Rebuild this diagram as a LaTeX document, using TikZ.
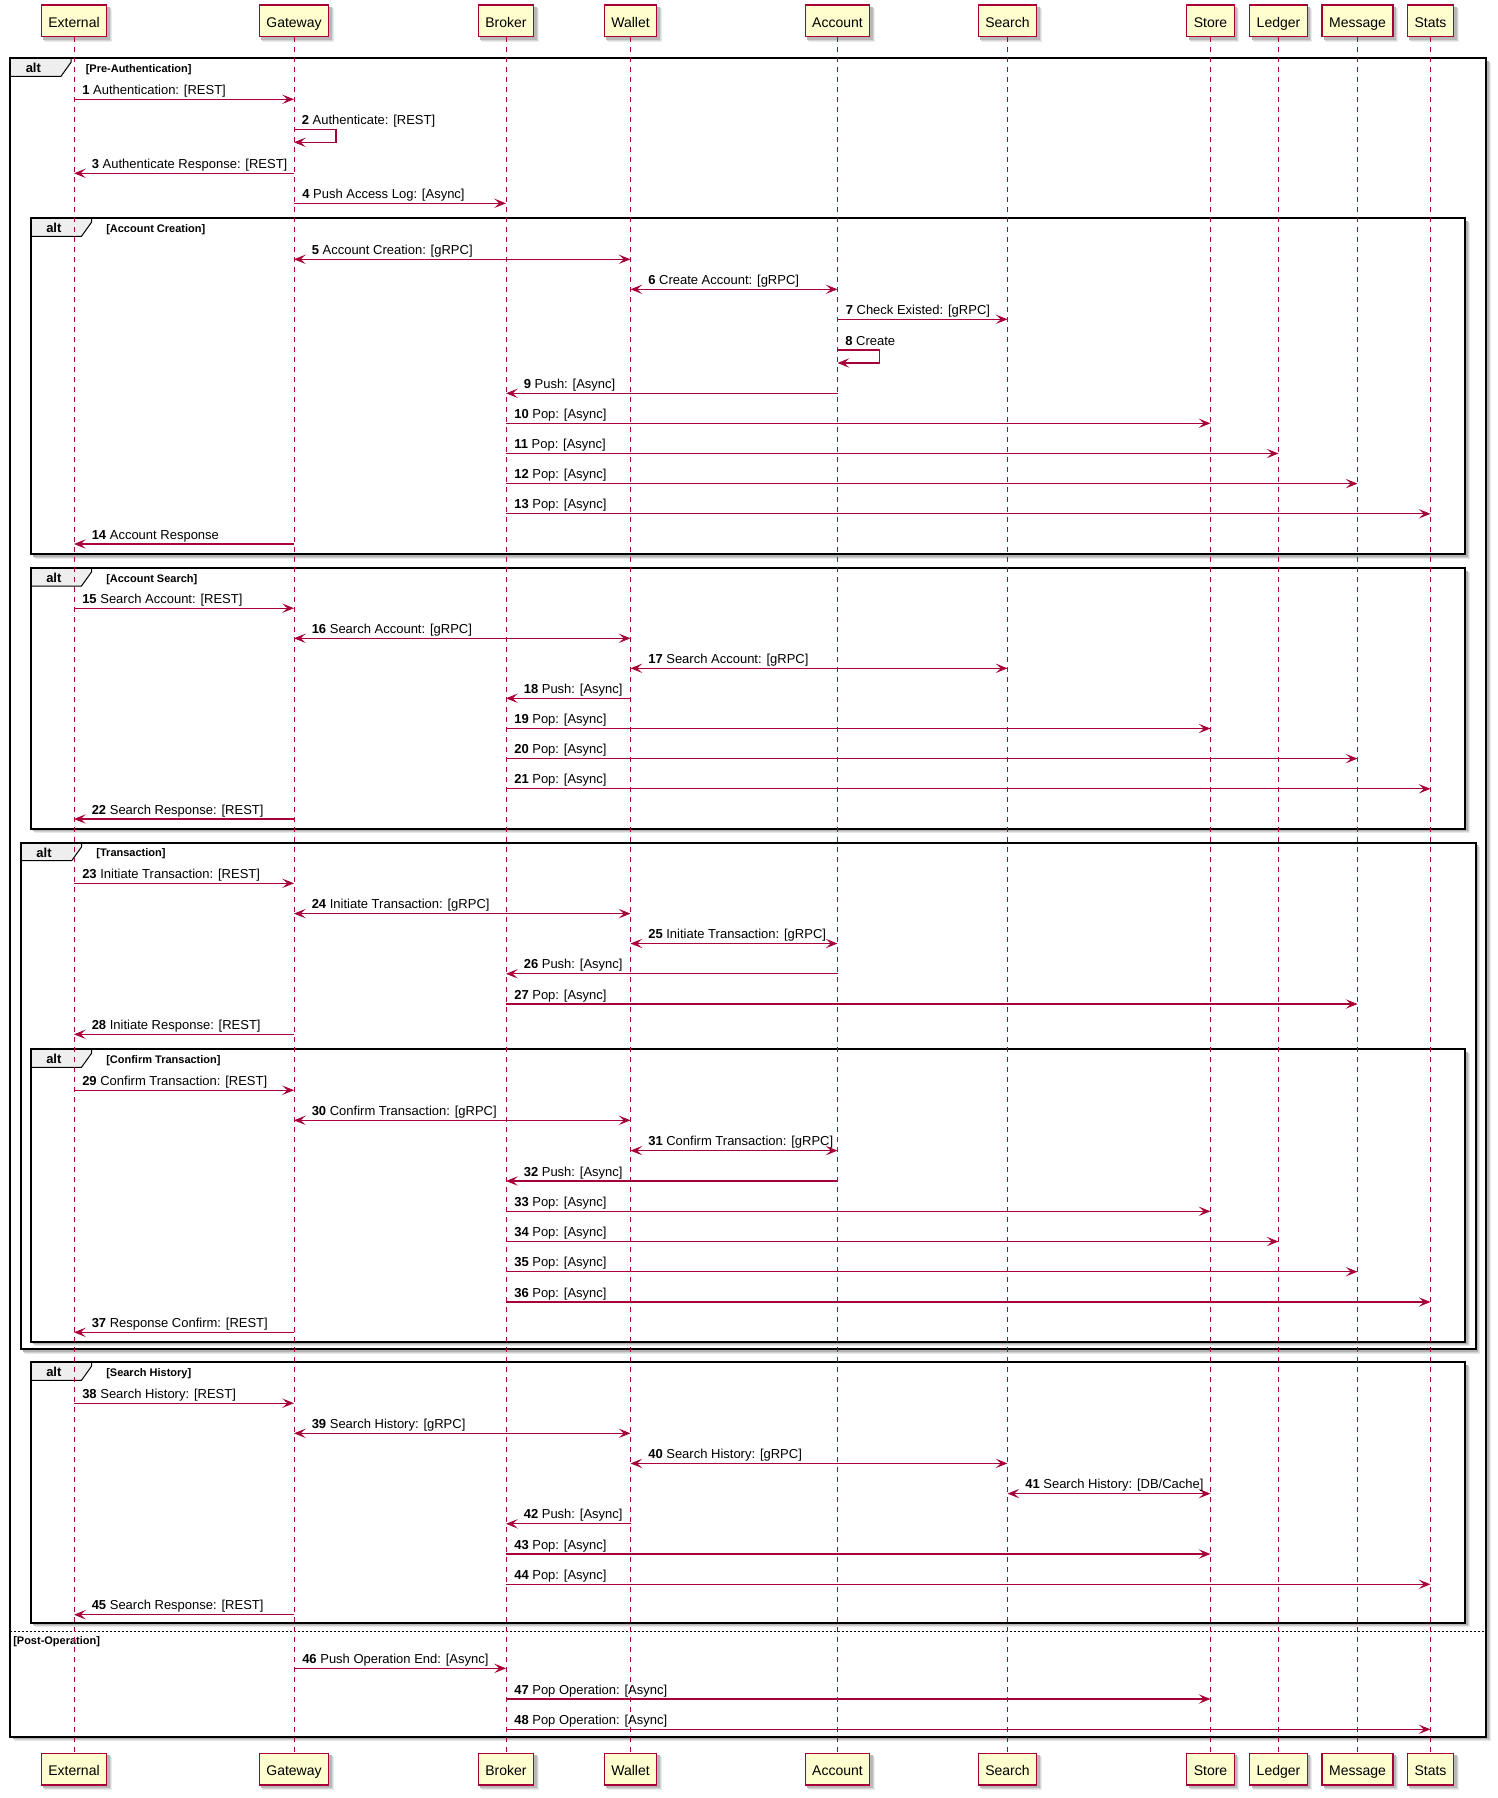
\documentclass[tikz,border=0pt]{standalone}
\usepackage{fontspec}
\setmainfont{Liberation Sans}
\usetikzlibrary{arrows.meta,calc,backgrounds}

\definecolor{umlred}{HTML}{A80036}
\definecolor{umlfill}{HTML}{FEFECE}
\definecolor{tabfill}{HTML}{EEEEEE}

\tikzset{
  umltip/.tip={Stealth[length=8.8pt,width=7pt,inset=3.8pt]},
  part/.style={draw=umlred, fill=umlfill, line width=1pt, minimum height=23.8pt,
    inner xsep=5.25pt, text height=9.6pt, text depth=0pt, font=\fontsize{10.5}{12}\selectfont},
  life/.style={draw=umlred, line width=0.75pt, dash pattern=on 3.75pt off 3.75pt},
  msgline/.style={draw=umlred, line width=0.8pt},
  lbl/.style={anchor=base west, inner sep=0pt, font=\fontsize{9.75}{11}\selectfont},
  frameline/.style={draw=black, line width=1.5pt},
  tabline/.style={draw=black, line width=0.75pt, fill=tabfill},
  altlbl/.style={anchor=base west, inner sep=0pt, font=\fontsize{9.75}{11}\selectfont\bfseries},
  guardlbl/.style={anchor=base west, inner sep=0pt, font=\fontsize{8.25}{10}\selectfont\bfseries},
  sepline/.style={draw=black, line width=0.75pt, dash pattern=on 1.5pt off 1.5pt},
}

% participant box with a soft drop shadow
\newcommand\participant[4]{%
  \node[part] (#1) at (#2,#3) {#4};
  \begin{scope}[on background layer]
    \fill[black!8]  ($(#1.south west)+(4.5,4.5)$) rectangle ($(#1.north east)+(4.5,4.5)$);
    \fill[black!16] ($(#1.south west)+(3.5,3.5)$) rectangle ($(#1.north east)+(3.5,3.5)$);
    \fill[black!28] ($(#1.south west)+(2.5,2.5)$) rectangle ($(#1.north east)+(2.5,2.5)$);
  \end{scope}}

% combined fragment frame: name, left, top, right, bottom, guard
\newcommand\altframe[6]{%
  \fill[black!9]  (#2+4.5,#3+4.5) rectangle (#4+4.5,#5+4.5);
  \fill[black!18] (#2+3.5,#3+3.5) rectangle (#4+3.5,#5+3.5);
  \fill[black!30] (#2+2.5,#3+2.5) rectangle (#4+2.5,#5+2.5);
  \fill[white] (#2,#3) rectangle (#4,#5);
  \draw[tabline] (#2,#3) -- (#2+61,#3) -- (#2+61,#3+4) -- (#2+51,#3+18) -- (#2,#3+18) -- cycle;
  \draw[frameline] (#2,#3) rectangle (#4,#5);
  \node[altlbl] (#1-op) at (#2+15.5,#3+14.5) {alt};
  \node[guardlbl] (#1-g) at (#2+75.5,#3+14) {#6};}

% messages: name, left lifeline, right lifeline, y, number, text
\newcommand\msgR[6]{%
  \draw[msgline,-umltip] (#2 |- 0,#4) -- (#3 |- 0,#4);
  \node[lbl] (#1) at ($(#2 |- 0,#4)+(8,-5)$) {\textbf{#5} #6};}
\newcommand\msgL[6]{%
  \draw[msgline,-umltip] (#3 |- 0,#4) -- (#2 |- 0,#4);
  \node[lbl] (#1) at ($(#2 |- 0,#4)+(17.5,-5)$) {\textbf{#5} #6};}
\newcommand\msgB[6]{%
  \draw[msgline,{umltip}-{umltip}] (#2 |- 0,#4) -- (#3 |- 0,#4);
  \node[lbl] (#1) at ($(#2 |- 0,#4)+(17.5,-5)$) {\textbf{#5} #6};}
% self message: name, lifeline, y, number, text
\newcommand\msgS[5]{%
  \draw[msgline,-umltip] (#2 |- 0,#3) -- ++(42,0) -- ++(0,13) -- ($(#2 |- 0,#3)+(0,13)$);
  \node[lbl] (#1) at ($(#2 |- 0,#3)+(7.5,-5)$) {\textbf{#4} #5};}

\begin{document}
\begin{tikzpicture}[x=0.75pt,y=-0.75pt]
\useasboundingbox (0,0) rectangle (1498,1798);

% fragments, outermost first
\altframe{fpre}{10}{58.3}{1486}{1736.7}{[Pre-Authentication]}
\altframe{facc}{30.5}{218.3}{1465}{554}{[Account Creation]}
\altframe{fsrch}{30.5}{568}{1465}{828.5}{[Account Search]}
\altframe{ftx}{20.7}{842.7}{1475.7}{1349}{[Transaction]}
\altframe{fconf}{30.5}{1049.3}{1465}{1341.7}{[Confirm Transaction]}
\altframe{fhist}{30.5}{1362.3}{1465}{1622.7}{[Search History]}
\draw[sepline] (10,1631) -- (1486,1631);
\node[guardlbl] (post) at (13,1644) {[Post-Operation]};

% participants
\participant{ext}{74}{20.9}{External}
\participant{gw}{294}{20.9}{Gateway}
\participant{brk}{506}{20.9}{Broker}
\participant{wal}{630.5}{20.9}{Wallet}
\participant{acc}{837.5}{20.9}{Account}
\participant{sch}{1007.5}{20.9}{Search}
\participant{sto}{1210.5}{20.9}{Store}
\participant{led}{1278.5}{20.9}{Ledger}
\participant{mes}{1357.5}{20.9}{Message}
\participant{sta}{1430.5}{20.9}{Stats}

\participant{extB}{74}{1769.2}{External}
\participant{gwB}{294}{1769.2}{Gateway}
\participant{brkB}{506}{1769.2}{Broker}
\participant{walB}{630.5}{1769.2}{Wallet}
\participant{accB}{837.5}{1769.2}{Account}
\participant{schB}{1007.5}{1769.2}{Search}
\participant{stoB}{1210.5}{1769.2}{Store}
\participant{ledB}{1278.5}{1769.2}{Ledger}
\participant{mesB}{1357.5}{1769.2}{Message}
\participant{staB}{1430.5}{1769.2}{Stats}

% lifelines
\foreach \p in {ext,gw,brk,wal,acc,sch,sto,led,mes,sta}
  \draw[life] (\p.south) -- (\p B.north);

% Pre-Authentication
\msgR{m1}{ext}{gw}{99.3}{1}{Authentication: [REST]}
\msgS{m2}{gw}{129.3}{2}{Authenticate: [REST]}
\msgL{m3}{ext}{gw}{173.3}{3}{Authenticate Response: [REST]}
\msgR{m4}{gw}{brk}{203.3}{4}{Push Access Log: [Async]}

% Account Creation
\msgB{m5}{gw}{wal}{259.3}{5}{Account Creation: [gRPC]}
\msgB{m6}{wal}{acc}{289.3}{6}{Create Account: [gRPC]}
\msgR{m7}{acc}{sch}{319.3}{7}{Check Existed: [gRPC]}
\msgS{m8}{acc}{350}{8}{Create}
\msgL{m9}{brk}{acc}{393.3}{9}{Push: [Async]}
\msgR{m10}{brk}{sto}{423.3}{10}{Pop: [Async]}
\msgR{m11}{brk}{led}{453.5}{11}{Pop: [Async]}
\msgR{m12}{brk}{mes}{483.6}{12}{Pop: [Async]}
\msgR{m13}{brk}{sta}{513.8}{13}{Pop: [Async]}
\msgL{m14}{ext}{gw}{544}{14}{Account Response}

% Account Search
\msgR{m15}{ext}{gw}{608.2}{15}{Search Account: [REST]}
\msgB{m16}{gw}{wal}{638.3}{16}{Search Account: [gRPC]}
\msgB{m17}{wal}{sch}{668.3}{17}{Search Account: [gRPC]}
\msgL{m18}{brk}{wal}{698.3}{18}{Push: [Async]}
\msgR{m19}{brk}{sto}{728.5}{19}{Pop: [Async]}
\msgR{m20}{brk}{mes}{758.6}{20}{Pop: [Async]}
\msgR{m21}{brk}{sta}{788.8}{21}{Pop: [Async]}
\msgL{m22}{ext}{gw}{819}{22}{Search Response: [REST]}

% Transaction
\msgR{m23}{ext}{gw}{883.3}{23}{Initiate Transaction: [REST]}
\msgB{m24}{gw}{wal}{913.6}{24}{Initiate Transaction: [gRPC]}
\msgB{m25}{wal}{acc}{943.5}{25}{Initiate Transaction: [gRPC]}
\msgL{m26}{brk}{acc}{973.8}{26}{Push: [Async]}
\msgR{m27}{brk}{mes}{1004}{27}{Pop: [Async]}
\msgL{m28}{ext}{gw}{1034.3}{28}{Initiate Response: [REST]}

% Confirm Transaction
\msgR{m29}{ext}{gw}{1090.2}{29}{Confirm Transaction: [REST]}
\msgB{m30}{gw}{wal}{1120.3}{30}{Confirm Transaction: [gRPC]}
\msgB{m31}{wal}{acc}{1150.6}{31}{Confirm Transaction: [gRPC]}
\msgL{m32}{brk}{acc}{1181}{32}{Push: [Async]}
\msgR{m33}{brk}{sto}{1211.3}{33}{Pop: [Async]}
\msgR{m34}{brk}{led}{1241.5}{34}{Pop: [Async]}
\msgR{m35}{brk}{mes}{1271.7}{35}{Pop: [Async]}
\msgR{m36}{brk}{sta}{1302}{36}{Pop: [Async]}
\msgL{m37}{ext}{gw}{1332.3}{37}{Response Confirm: [REST]}

% Search History
\msgR{m38}{ext}{gw}{1403.2}{38}{Search History: [REST]}
\msgB{m39}{gw}{wal}{1433.3}{39}{Search History: [gRPC]}
\msgB{m40}{wal}{sch}{1463.4}{40}{Search History: [gRPC]}
\msgB{m41}{sch}{sto}{1493.6}{41}{Search History: [DB/Cache]}
\msgL{m42}{brk}{wal}{1523.8}{42}{Push: [Async]}
\msgR{m43}{brk}{sto}{1554}{43}{Pop: [Async]}
\msgR{m44}{brk}{sta}{1584.3}{44}{Pop: [Async]}
\msgL{m45}{ext}{gw}{1614.7}{45}{Search Response: [REST]}

% Post-Operation
\msgR{m46}{gw}{brk}{1668.3}{46}{Push Operation End: [Async]}
\msgR{m47}{brk}{sto}{1699}{47}{Pop Operation: [Async]}
\msgR{m48}{brk}{sta}{1729.3}{48}{Pop Operation: [Async]}
\end{tikzpicture}
\end{document}
